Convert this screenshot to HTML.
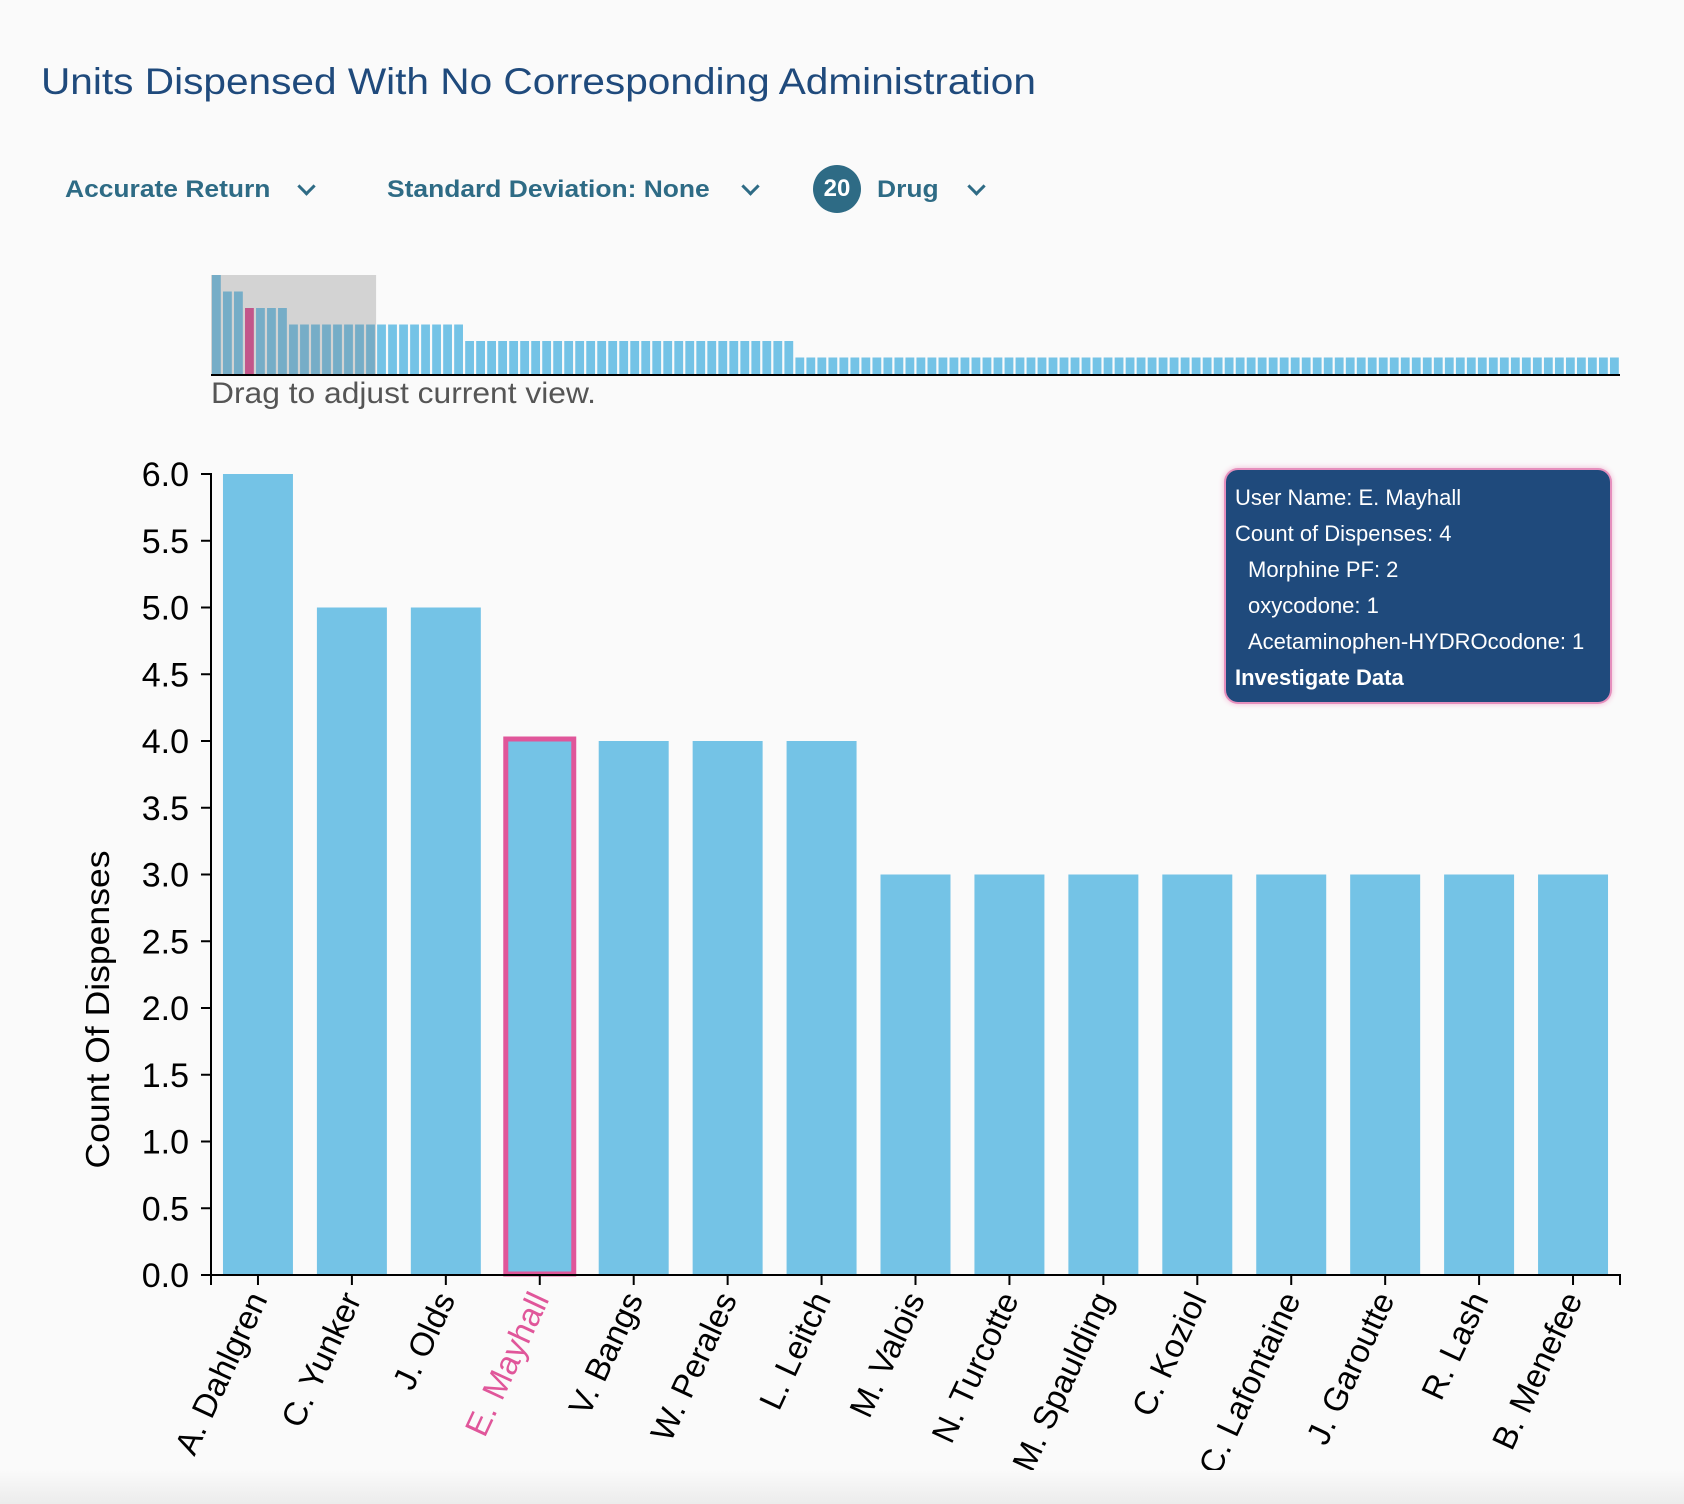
<!DOCTYPE html>
<html><head><meta charset="utf-8">
<style>
html,body{margin:0;padding:0;background:#fafafa;}
body{width:1684px;height:1504px;position:relative;overflow:hidden;font-family:"Liberation Sans",sans-serif;}
#title{position:absolute;left:41px;top:61px;font-size:37px;color:#1f4a7c;white-space:nowrap;transform:scaleX(1.097);transform-origin:left top;}
.ctl{position:absolute;top:176px;font-size:24px;font-weight:bold;color:#2e6b85;white-space:nowrap;transform:scaleX(1.1);transform-origin:left top;}
.chev{position:absolute;top:180px;width:10px;height:10px;border-right:3px solid #2e6b85;border-bottom:3px solid #2e6b85;transform:rotate(45deg);}
#badge{position:absolute;left:813px;top:165px;width:48px;height:48px;border-radius:50%;background:#2e6b85;color:#fff;font-weight:bold;font-size:24px;text-align:center;line-height:48px;}
#tip{position:absolute;left:1226px;top:470px;width:384px;height:232px;box-sizing:border-box;background:#1f4a7c;border-radius:12px;box-shadow:0 0 0 2px #e58fbd,0 0 6px 2px #f1b6d3;color:#fff;font-size:22px;padding:10px 0 0 9px;line-height:36px;white-space:nowrap;}
#tip .ind{padding-left:13px;}
#fade{position:absolute;left:0;top:1470px;width:1684px;height:34px;background:linear-gradient(#fafafa,#ececec);}
</style></head>
<body>
<div id="title">Units Dispensed With No Corresponding Administration</div>
<div class="ctl" style="left:65px">Accurate Return</div>
<div class="chev" style="left:300px"></div>
<div class="ctl" style="left:387px">Standard Deviation: None</div>
<div class="chev" style="left:744px"></div>
<div id="badge">20</div>
<div class="ctl" style="left:877px">Drug</div>
<div class="chev" style="left:970px"></div>

<svg id="svg" width="1684" height="1504" style="position:absolute;left:0;top:0"></svg>

<div id="tip">
<div>User Name: E. Mayhall</div>
<div>Count of Dispenses: 4</div>
<div class="ind">Morphine PF: 2</div>
<div class="ind">oxycodone: 1</div>
<div class="ind">Acetaminophen-HYDROcodone: 1</div>
<div style="font-weight:bold">Investigate Data</div>
</div>
<div id="fade"></div>

<script>
const categories=["A. Dahlgren","C. Yunker","J. Olds","E. Mayhall","V. Bangs","W. Perales","L. Leitch","M. Valois","N. Turcotte","M. Spaulding","C. Koziol","C. Lafontaine","J. Garoutte","R. Lash","B. Menefee"];
const values=[6,5,5,4,4,4,4,3,3,3,3,3,3,3,3];
const yTicks=[0,0.5,1,1.5,2,2.5,3,3.5,4,4.5,5,5.5,6];
const highlighted="E. Mayhall";
// overview counts (all users): value levels and how many users at each
const overviewLevels=[6,5,4,3,2,1];
const overviewCounts=[1,2,4,16,30,75];

const NS="http://www.w3.org/2000/svg";
const svg=document.getElementById('svg');
function mk(t,a,p){const e=document.createElementNS(NS,t);for(const k in a)e.setAttribute(k,a[k]);(p||svg).appendChild(e);return e;}

// ---- overview ----
const ov=[];overviewLevels.forEach((l,i)=>{for(let j=0;j<overviewCounts[i];j++)ov.push(l);});
const oL=211,oR=1620,oTop=275,oBase=374;
const ox=i=>oL+i*(oR-oL)/ov.length;
const oy=v=>oBase-(v/6)*(oBase-oTop);
const ow=(oR-oL)/ov.length;
const brush=mk('rect',{x:oL,y:oTop,width:ow*categories.length,height:oBase-oTop,fill:'#d3d3d3'});


ov.forEach((v,i)=>{
  const inB=i<categories.length;
  const b=mk('rect',{x:ox(i)+1,y:oy(v),width:ow*0.8,height:oBase-oy(v),fill:i===categories.indexOf(highlighted)?'#c2568a':(inB?'#76adc7':'#74c3e6')});
  
  
});
const oax=mk('line',{x1:oL,x2:oR,y1:oBase+1,y2:oBase+1,stroke:'#000','stroke-width':2});


const dt=mk('text',{x:211,y:403,'font-size':30,fill:'#555','font-family':'Liberation Sans, sans-serif',textLength:385,lengthAdjust:'spacingAndGlyphs'});
dt.textContent='Drag to adjust current view.';



// ---- main chart ----
const L=211,R=1620,T=474,B=1275,yMax=6;
const y=v=>B-(v/yMax)*(B-T);
const band=(R-L)/categories.length;
const x=i=>L+i*band;
const bw=band*0.745;
values.forEach((v,i)=>{
  const bx=x(i)+(band-bw)/2;
  const r=mk('rect',{x:bx,y:y(v),width:bw,height:B-y(v),fill:'#74c3e6'});
  
  
  if(categories[i]===highlighted){
    const h=mk('rect',{x:bx+1,y:y(v)-2,width:bw-2,height:B-y(v)+1,fill:'none',stroke:'#e0569a','stroke-width':5});
    
    
  }
});
const ya=mk('path',{d:`M${L-10},${T}H${L}V${B}H${L-10}`,fill:'none',stroke:'#000','stroke-width':2});


yTicks.forEach(t=>{
  const tk=mk('line',{x1:L-10,x2:L,y1:y(t),y2:y(t),stroke:'#000','stroke-width':2});
  
  
  const tx=mk('text',{x:L-22,y:y(t)+12,'text-anchor':'end','font-size':34,fill:'#000','font-family':'Liberation Sans, sans-serif'});
  tx.textContent=t.toFixed(1);
  
  
});
const xa=mk('path',{d:`M${L},${B+10}V${B}H${R}V${B+10}`,fill:'none',stroke:'#000','stroke-width':2});


categories.forEach((c,i)=>{
  const cx=x(i)+band/2;
  const tk=mk('line',{x1:cx,x2:cx,y1:B,y2:B+10,stroke:'#000','stroke-width':2});
  
  
  const tx=mk('text',{x:0,y:0,'text-anchor':'end','font-size':33,fill:c===highlighted?'#e0569a':'#000','font-family':'Liberation Sans, sans-serif',transform:`translate(${cx+10},${B+24}) rotate(-65)`});
  tx.textContent=c;
  
  
});
const yt=mk('text',{x:0,y:0,'text-anchor':'middle','font-size':33,fill:'#000','font-family':'Liberation Sans, sans-serif',transform:`translate(109,${(T+B)/2+135}) rotate(-90)`,textLength:318,lengthAdjust:'spacingAndGlyphs'});
yt.textContent='Count Of Dispenses';


</script>
</body></html>
